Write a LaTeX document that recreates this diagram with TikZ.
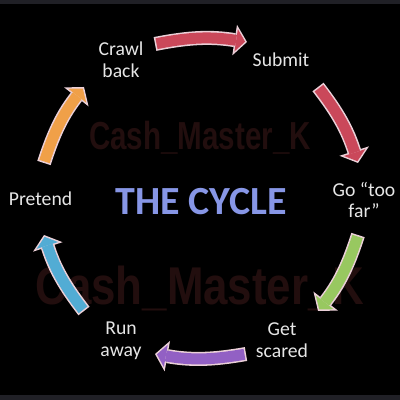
\documentclass[tikz,border=0pt]{standalone}
\usepackage{fontspec}
\setmainfont{Carlito}
\newfontfamily\wmfont{Liberation Sans}
\usetikzlibrary{arrows.meta}

\definecolor{band}{RGB}{32,32,38}
\definecolor{labelgray}{RGB}{230,230,230}
\definecolor{rimpink}{RGB}{235,208,216}
\definecolor{arrowred}{RGB}{202,72,90}
\definecolor{arrowgreen}{RGB}{152,200,96}
\definecolor{arrowpurple}{RGB}{146,96,196}
\definecolor{arrowblue}{RGB}{82,172,212}
\definecolor{arroworange}{RGB}{240,160,72}
\definecolor{titleblue}{RGB}{135,150,230}
\definecolor{wmred}{RGB}{34,14,14}

\begin{document}
\begin{tikzpicture}[x=0.025cm,y=0.025cm,
    stage/.style={text=labelgray,inner sep=0pt,align=center,font=\fontsize{14}{15.4}\selectfont},
    headline/.style={text=titleblue,inner sep=0pt,font=\bfseries\fontsize{28.4}{30}\selectfont},
    wmark/.style={text=wmred,inner sep=0pt,anchor=base},
    rim/.style={bend left=10,draw=rimpink,line width=10pt,
      -{Triangle[length=8.9pt 0 0,width=22pt 0 0,line width=0pt 0 0]}},
    body/.style={bend left=10,draw=#1,line width=7.8pt,shorten <=1.1pt,shorten >=1.4pt,
      -{Triangle[length=6.4pt 0 0,width=16pt 0 0,line width=0pt 0 0]}}]
  % background
  \fill[black] (0,0) rectangle (400,400);
  \fill[band] (0,396) rectangle (400,400);
  \fill[band] (0,0) rectangle (400,5);

  % watermark
  \node[wmark,xscale=0.756,font=\wmfont\bfseries\fontsize{27.8}{30}\selectfont] (wm_1) at (200,250) {Cash\_Master\_K};
  \node[wmark,xscale=0.825,font=\wmfont\bfseries\fontsize{37.8}{40}\selectfont] (wm_2) at (200,95) {Cash\_Master\_K};

  % arrow ends
  \coordinate (s1) at (155,356); \coordinate (e1) at (247,358);
  \coordinate (s2) at (318,313); \coordinate (e2) at (358,237);
  \coordinate (s3) at (358,165); \coordinate (e3) at (318,89);
  \coordinate (s4) at (246,46);  \coordinate (e4) at (155,46);
  \coordinate (s5) at (84,89);   \coordinate (e5) at (44,165);
  \coordinate (s6) at (44,237);  \coordinate (e6) at (84,313);

  \path (s1) edge[rim] (e1) edge[body=arrowred] (e1)
        (s2) edge[rim] (e2) edge[body=arrowred] (e2)
        (s3) edge[rim] (e3) edge[body=arrowgreen] (e3)
        (s4) edge[rim] (e4) edge[body=arrowpurple] (e4)
        (s5) edge[rim] (e5) edge[body=arrowblue] (e5)
        (s6) edge[rim] (e6) edge[body=arroworange] (e6);

  % stages
  \node[stage] (crawl)   at (121,340) {Crawl\\back};
  \node[stage] (submit)  at (281,340) {Submit};
  \node[stage] (gofar)   at (364,200) {Go “too\\far”};
  \node[stage] (scared)  at (282,60)  {Get\\scared};
  \node[stage] (runaway) at (121,59)  {Run\\away};
  \node[stage] (pretend) at (40.5,201) {Pretend};

  \node[headline] (cycle) at (201,198) {THE CYCLE};
\end{tikzpicture}
\end{document}
